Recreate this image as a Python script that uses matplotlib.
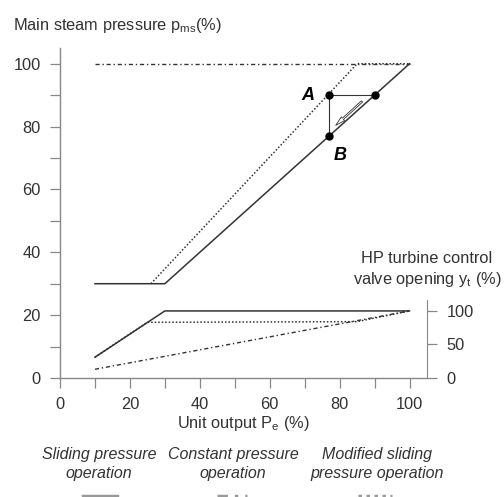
import numpy as np
import matplotlib
matplotlib.use("Agg")
import matplotlib.pyplot as plt
from matplotlib.lines import Line2D

plt.rcParams['font.family'] = ['Liberation Sans', 'DejaVu Sans']
plt.rcParams['mathtext.fontset'] = 'custom'
plt.rcParams['mathtext.rm'] = 'Liberation Sans'
plt.rcParams['mathtext.it'] = 'Liberation Sans:italic'

# main steam pressure (%) vs unit output (%)
sliding_x = [10, 30, 100]
sliding_p = [30, 30, 100]
constant_x = [10, 100]
constant_p = [100, 100]
modified_x = [26, 85, 100]
modified_p = [30, 100, 100]

# HP turbine control valve opening (%)
sliding_vx = [10, 30, 100]
sliding_v = [31, 100, 100]
constant_vx = [10, 100]
constant_v = [13, 100]
modified_vx = [10, 25, 85, 100]
modified_v = [31, 83, 84, 100]

# transition points
A = (77, 90)
C = (90, 90)
B = (77, 77)

line_c = '#333333'
axis_c = '#888888'
txt_c = '#333333'
fs = 11.8

fig = plt.figure(figsize=(5.04, 4.97), dpi=100)
ax = fig.add_axes([60/504, 1-378/497, (427-60)/504, (378-48)/497])

ax.plot(sliding_x, sliding_p, color=line_c, lw=1.1, ls='-')
ax.plot(constant_x, constant_p, color=line_c, lw=1.0, ls=(0, (3, 2, 1, 2)))
ax.plot(modified_x, modified_p, color=line_c, lw=1.1, ls=(0, (1, 1.3)))

ax.plot([A[0], C[0]], [A[1], C[1]], color=line_c, lw=0.8)
ax.plot([A[0], B[0]], [A[1], B[1]], color=line_c, lw=0.8)
ax.plot([A[0], C[0], B[0]], [A[1], C[1], B[1]], 'o', color='black', ms=5, ls='none')
ax.annotate('', xy=(78.3, 79.8), xytext=(87, 88.6),
            arrowprops=dict(arrowstyle='simple,head_width=0.35,head_length=0.7,tail_width=0.12',
                            fc='white', ec=line_c, lw=0.6))
ax.text(71, 90, 'A', fontsize=13, fontweight='bold', style='italic',
        ha='center', va='center', color='black')
ax.text(80.3, 70.8, 'B', fontsize=13, fontweight='bold', style='italic',
        ha='center', va='center', color='black')

ax.set_xlim(0, 105)
ax.set_ylim(0, 105)
ax.set_xticks(np.arange(0, 101, 20))
ax.set_xticks(np.arange(0, 101, 10), minor=True)
ax.set_yticks(np.arange(0, 101, 20))
ax.set_yticks(np.arange(0, 101, 10), minor=True)
ax.tick_params(which='both', direction='out', length=7, width=0.9, color=axis_c,
               labelsize=fs, labelcolor=txt_c, pad=7)
for s in ['top', 'right']:
    ax.spines[s].set_visible(False)
for s in ['left', 'bottom']:
    ax.spines[s].set_color(axis_c)
    ax.spines[s].set_linewidth(1.0)
ax.set_xlabel('Unit output P$_\\mathrm{e}$ (%)', fontsize=fs, color=txt_c, labelpad=1)

ax2 = ax.twinx()
ax2.plot(sliding_vx, sliding_v, color=line_c, lw=1.1, ls='-')
ax2.plot(constant_vx, constant_v, color=line_c, lw=1.0, ls=(0, (3, 2, 1, 2)))
ax2.plot(modified_vx, modified_v, color=line_c, lw=1.1, ls=(0, (1, 1.3)))
ax2.set_ylim(0, 492)
ax2.set_yticks([0, 50, 100])
ax2.tick_params(direction='out', length=7, width=0.9, color=axis_c,
                labelsize=fs, labelcolor=txt_c, pad=7)
for s in ['top', 'left', 'bottom']:
    ax2.spines[s].set_visible(False)
ax2.spines['right'].set_bounds(0, 116)
ax2.spines['right'].set_color(axis_c)
ax2.text(105, 132, 'HP turbine control\nvalve opening y$_\\mathrm{t}$ (%)', fontsize=fs,
         ha='center', va='bottom', color=txt_c, linespacing=1.35)

fig.text(13/504, 1-30/497, 'Main steam pressure p$_\\mathrm{ms}$(%)', fontsize=fs,
         color=txt_c, ha='left', va='baseline')

labels = ['Sliding pressure\noperation', 'Constant pressure\noperation',
          'Modified sliding\npressure operation']
label_x = [99, 233, 377]
sample_x = [(83, 117), (217, 247), (358, 392)]
sample_ls = ['-', (0, (3, 2, 1, 2)), (0, (1, 1.3))]
for lab, lx, (x0, x1), lsty in zip(labels, label_x, sample_x, sample_ls):
    fig.text(lx/504, 1-464/497, lab, fontsize=11.5, style='italic', color=txt_c,
             ha='center', va='center', linespacing=1.3)
    fig.add_artist(Line2D([x0/504, x1/504], [0.002, 0.002], color='#999999',
                          lw=2.5, ls=lsty, transform=fig.transFigure))

fig.savefig('out.png', dpi=100)
